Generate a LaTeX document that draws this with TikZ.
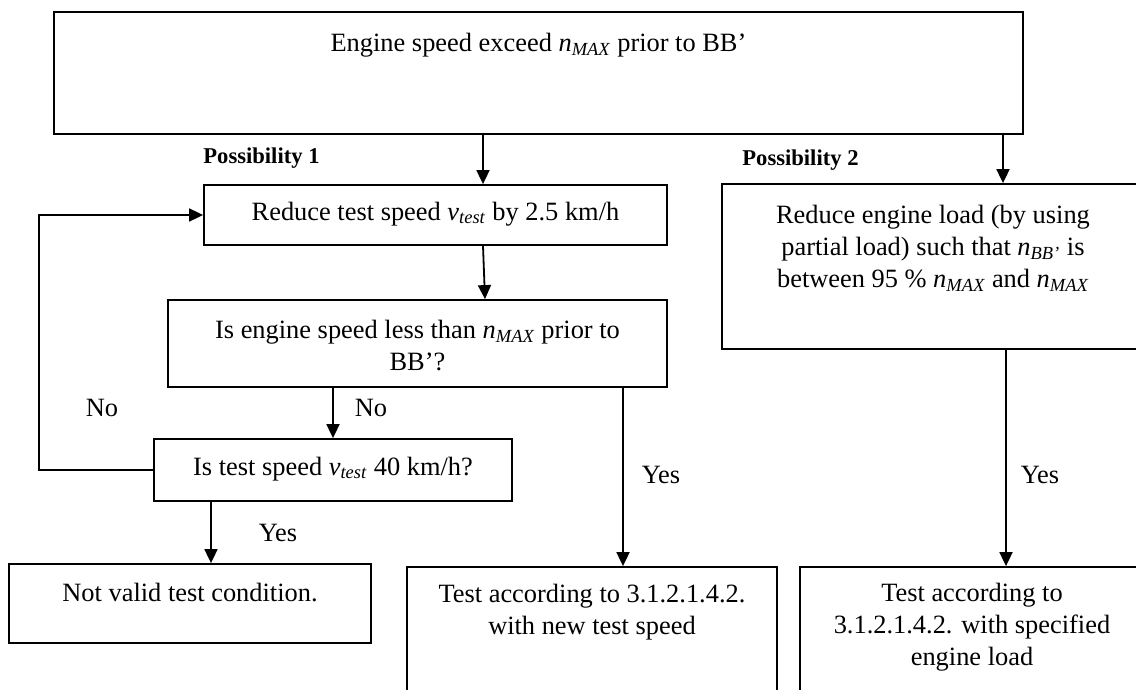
\documentclass[tikz,border=0pt]{standalone}
\usepackage{fontspec}
\setmainfont{Liberation Serif}
\usetikzlibrary{arrows.meta}
\begin{document}
\begin{tikzpicture}[x=0.5pt,y=-0.5pt,
  every node/.style={font=\fontsize{13.2pt}{16pt}\selectfont, inner sep=0pt},
  box/.style 2 args={draw, line width=0.9pt, rectangle, minimum width=#1*0.5pt, minimum height=#2*0.5pt},
  txt/.style={align=center},
  lbl/.style={font=\bfseries\fontsize{11.3pt}{13pt}\selectfont, anchor=west},
  arr/.style={line width=0.9pt, -{Triangle[length=7pt,width=6.5pt]}}]
\useasboundingbox (0,0) rectangle (1136,690);
\clip (0,0) rectangle (1136,690);
% boxes
\node[box={969}{122}] (top) at (538.5,73) {};
\node[txt] (ttop) at (538.5,45) {Engine speed exceed \textit{n\textsubscript{MAX}} prior to BB’};
\node[lbl] (p1) at (203,158) {Possibility 1};
\node[lbl] (p2) at (742,160) {Possibility 2};
\node[box={463}{60}] (red) at (435.5,215) {};
\node[txt] (tred) at (435.5,214) {Reduce test speed \textit{v\textsubscript{test}} by 2.5 km/h};
\node[box={499}{87}] (eng) at (417.5,343.5) {};
\node[txt] (teng) at (417.5,346) {Is engine speed less than \textit{n\textsubscript{MAX}} prior to\\BB’?};
\node[box={358}{62}] (spd) at (333,470) {};
\node[txt] (tspd) at (333,469) {Is test speed \textit{v\textsubscript{test}} 40 km/h?};
\node[box={362}{79}] (inv) at (190,603.5) {};
\node[txt] (tinv) at (190,593) {Not valid test condition.};
\node[box={370}{200}] (newsp) at (592,667) {};
\node[txt] (tnewsp) at (592,612) {Test according to 3.1.2.1.4.2.\\with new test speed};
\node[box={422}{165}] (load) at (933,266.5) {};
\node[txt] (tload) at (933,248) {Reduce engine load (by using\\partial load) such that \textit{n\textsubscript{BB’}} is\\between 95 \% \textit{n\textsubscript{MAX}} and \textit{n\textsubscript{MAX}}};
\node[box={344}{200}] (spec) at (972,667) {};
\node[txt] (tspec) at (972,627) {Test according to\\3.1.2.1.4.2. with specified\\engine load};
% connectors
\draw[arr] (top.south -| 483,0) -- (red.north -| 483,0);
\draw[arr] (top.south -| 1003,0) -- (load.north -| 1003,0);
\draw[arr] (red.south -| 483,0) -- (eng.north -| 485,0);
\draw[arr] (eng.south -| 333,0) -- (spd.north -| 333,0);
\draw[arr] (eng.south -| 623,0) -- (newsp.north -| 623,0);
\draw[arr] (spd.west) -- ++(-114,0) |- (red.west);
\draw[arr] (spd.south -| 211,0) -- (inv.north -| 211,0);
\draw[arr] (load.south -| 1006,0) -- (spec.north -| 1006,0);
% labels
\node (no1) at (102,408) {No};
\node (no2) at (371,408) {No};
\node (yes1) at (278,533) {Yes};
\node (yes2) at (661,475) {Yes};
\node (yes3) at (1040,475) {Yes};
\end{tikzpicture}
\end{document}
